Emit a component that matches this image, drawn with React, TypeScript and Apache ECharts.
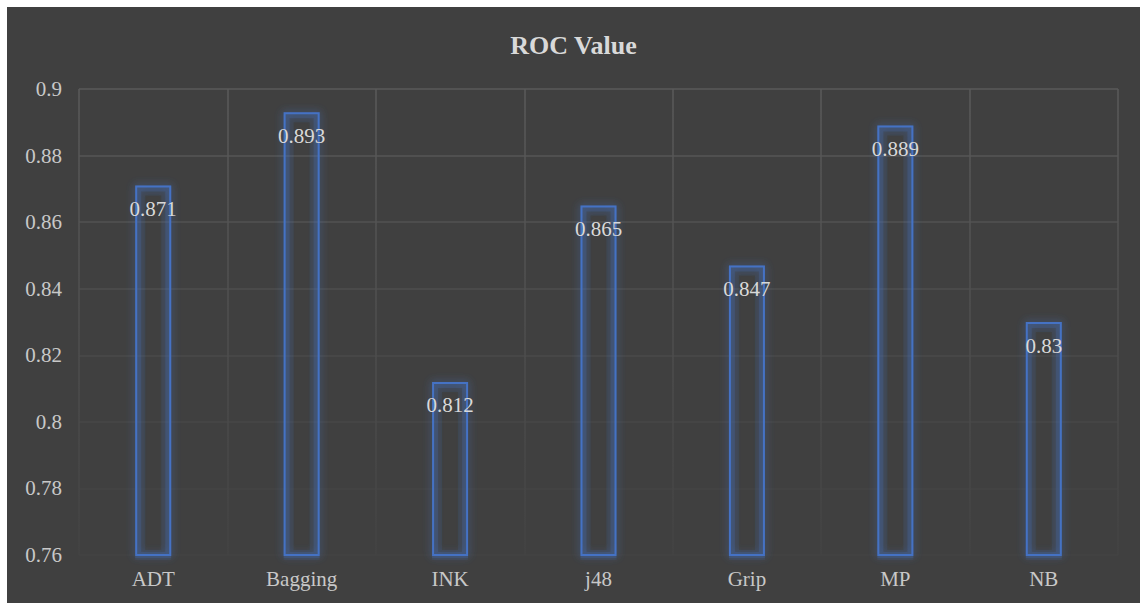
import React, { useEffect, useRef } from "react";
import * as echarts from "echarts";

const categories = ["ADT", "Bagging", "INK", "j48", "Grip", "MP", "NB"];
const rocValues = [0.871, 0.893, 0.812, 0.865, 0.847, 0.889, 0.83];
const yTicks = [0.76, 0.78, 0.8, 0.82, 0.84, 0.86, 0.88, 0.9];

// Gridline shades, bottom (0.76) to top (0.9): they fade toward the baseline
const hLineColors = ["#434343", "#454545", "#474747", "#4a4a4a", "#4e4e4e", "#525252", "#565656", "#5a5a5a"];

const FONT = "Liberation Serif";
const BAR_WIDTH = 36;

// Soft outline layers drawn beneath the bars to give them a glow
const glowLayer = (width: number, alpha: number) => ({
  type: "bar",
  data: rocValues,
  barWidth: BAR_WIDTH,
  barGap: "-100%",
  silent: true,
  z: 1,
  itemStyle: {
    color: "rgba(0,0,0,0)",
    borderColor: `rgba(68,114,196,${alpha})`,
    borderWidth: width,
  },
});

export default function App() {
  const ref = useRef<HTMLDivElement>(null);

  useEffect(() => {
    if (!ref.current) return;
    const chart = echarts.init(ref.current, undefined, { renderer: "svg" });
    const gridTop = 82;
    const gridHeight = 466;
    chart.setOption({
      animation: false,
      backgroundColor: "#404040",
      title: {
        text: "ROC Value",
        left: "center",
        top: 20,
        textStyle: { color: "#d9d9d9", fontFamily: FONT, fontSize: 26, fontWeight: "bold" },
      },
      grid: { left: 72, right: 22, top: gridTop, height: gridHeight },
      xAxis: {
        type: "category",
        data: categories,
        axisLine: { show: false },
        axisTick: { show: false },
        axisLabel: { color: "#c8c8c8", fontFamily: FONT, fontSize: 21, margin: 13 },
        splitLine: {
          show: true,
          lineStyle: {
            width: 1.5,
            color: new echarts.graphic.LinearGradient(
              0, gridTop, 0, gridTop + gridHeight,
              [
                { offset: 0, color: "#5a5a5a" },
                { offset: 1, color: "#434343" },
              ],
              true
            ),
          },
        },
      },
      yAxis: {
        type: "value",
        min: yTicks[0],
        max: yTicks[yTicks.length - 1],
        interval: 0.02,
        axisLine: { show: false },
        axisTick: { show: false },
        axisLabel: {
          color: "#c8c8c8",
          fontFamily: FONT,
          fontSize: 21,
          margin: 17,
          formatter: (v: number) => String(Math.round(v * 100) / 100),
        },
        splitLine: { show: true, lineStyle: { width: 1.5, color: hLineColors } },
      },
      series: [
        glowLayer(10, 0.12),
        glowLayer(6, 0.2),
        {
          type: "bar",
          data: rocValues,
          barWidth: BAR_WIDTH,
          barGap: "-100%",
          z: 3,
          itemStyle: {
            color: "rgba(0,0,0,0)",
            borderColor: "#4472c4",
            borderWidth: 2,
            shadowBlur: 8,
            shadowColor: "rgba(68,114,196,0.9)",
          },
          label: {
            show: true,
            position: "insideTop",
            distance: 13,
            color: "#d9d9d9",
            fontFamily: FONT,
            fontSize: 21,
            formatter: (p: any) => String(p.value),
          },
        },
      ],
    });
    return () => chart.dispose();
  }, []);

  return (
    <div
      ref={ref}
      style={{ position: "absolute", left: 7, top: 7, width: 1133, height: 596 }}
    />
  );
}
